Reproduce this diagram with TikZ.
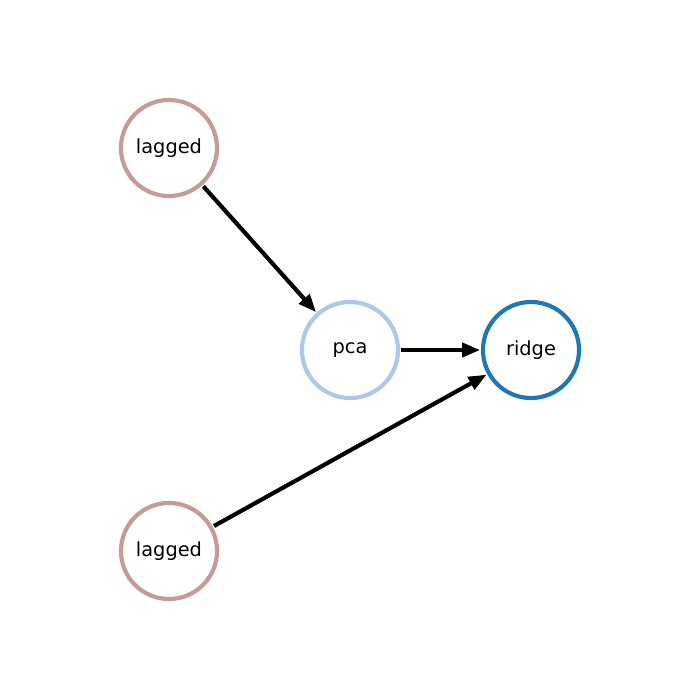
\documentclass[tikz,border=0pt]{standalone}
\usepackage{fontspec}
\setmainfont{DejaVu Sans}
\usetikzlibrary{arrows.meta}
\definecolor{laggedc}{HTML}{C49C94}
\definecolor{pcac}{HTML}{AEC7E8}
\definecolor{ridgec}{HTML}{1F77B4}
\begin{document}
\begin{tikzpicture}[x=0.254mm,y=-0.254mm,
  est/.style={circle,draw,line width=3pt,fill=white,minimum size=24.4mm,inner sep=0pt,font=\fontsize{14}{16}\selectfont},
  conn/.style={line width=3pt,-{Triangle[length=13pt,width=10pt]},shorten >=0.5pt,shorten <=1pt}]
\useasboundingbox (0,0) rectangle (700,700);
\node[est,draw=laggedc] (l1) at (169,148) {\raisebox{-1.5pt}{lagged}};
\node[est,draw=pcac] (p) at (350,350) {\raisebox{-1.5pt}{pca}};
\node[est,draw=ridgec] (r) at (531,350) {\raisebox{-1.5pt}{ridge}};
\node[est,draw=laggedc] (l2) at (169,551) {\raisebox{-1.5pt}{lagged}};
\draw[conn] (l1) -- (p);
\draw[conn] (p) -- (r);
\draw[conn] (l2) -- (r);
\end{tikzpicture}
\end{document}
